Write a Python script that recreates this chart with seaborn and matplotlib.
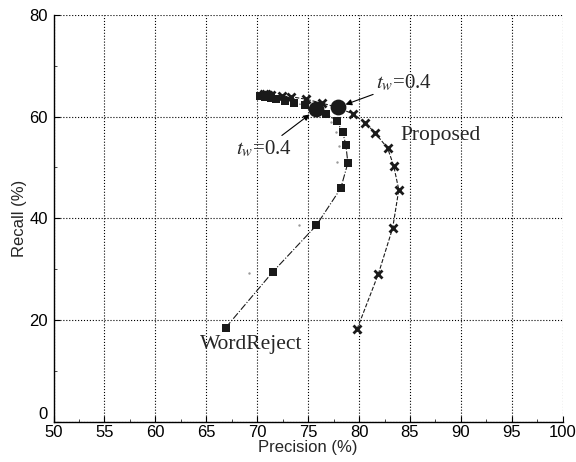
import matplotlib
matplotlib.use('Agg')
import matplotlib.pyplot as plt
import seaborn as sns

sns.set_style("ticks")
plt.rcParams['font.family'] = ['Liberation Sans', 'DejaVu Sans']
plt.rcParams['mathtext.fontset'] = 'stix'

# WordReject curve (squares), from low recall to the top cluster
wr_prec = [66.9, 71.5, 75.8, 78.2, 78.9, 78.7, 78.4, 77.8, 76.8, 75.8, 74.7, 73.6,
           72.7, 71.8, 71.4, 71.1, 70.8, 70.5, 70.3]
wr_rec = [18.5, 29.4, 38.6, 45.9, 50.9, 54.4, 56.9, 59.1, 60.5, 61.4, 62.2, 62.7,
          63.1, 63.4, 63.6, 63.8, 63.9, 64.0, 64.1]

# Proposed curve (crosses)
pr_prec = [79.8, 81.9, 83.3, 83.9, 83.4, 82.8, 81.6, 80.6, 79.4, 77.9, 76.4, 74.8,
           73.3, 72.4, 71.4, 71.1, 70.9, 70.7]
pr_rec = [18.2, 29.1, 38.1, 45.6, 50.3, 53.8, 56.7, 58.8, 60.5, 61.8, 62.6, 63.4,
          63.9, 64.0, 64.2, 64.3, 64.4, 64.4]

# faint dotted companion points
faint_prec = [69.2, 74.1, 77.8, 78.0, 77.7, 77.2]
faint_rec = [29.3, 38.6, 51.1, 54.3, 57.0, 59.0]

# operating points at t_w = 0.4
tw_prec = [75.8, 77.9]
tw_rec = [61.4, 61.8]

ink = '#1a1a1a'
fig = plt.figure(figsize=(5.76, 4.62), dpi=100)
ax = fig.add_axes([0.093, 0.087, 0.884, 0.881])

sns.scatterplot(x=faint_prec, y=faint_rec, ax=ax, color='#999999', s=3,
                linewidth=0, zorder=2)
sns.lineplot(x=wr_prec, y=wr_rec, ax=ax, sort=False, estimator=None, color=ink,
             lw=0.8, linestyle='-.', marker='s', markersize=6,
             markeredgewidth=0, markerfacecolor=ink, zorder=3)
sns.lineplot(x=pr_prec, y=pr_rec, ax=ax, sort=False, estimator=None, color=ink,
             lw=0.8, linestyle='--', marker='x', markersize=6,
             markeredgewidth=2, markeredgecolor=ink, zorder=3)
sns.scatterplot(x=tw_prec, y=tw_rec, ax=ax, color=ink, s=130, linewidth=0,
                zorder=4)

ax.set_xlim(50, 100)
ax.set_ylim(0, 80)
ax.set_xticks(range(50, 101, 5))
ax.set_yticks(range(0, 81, 20))
ax.set_xticks([x + 2.5 for x in range(50, 100, 5)], minor=True)
ax.set_yticks([10, 30, 50, 70], minor=True)
ax.tick_params(which='major', direction='in', length=4, width=0.8, labelsize=12,
               colors='black')
ax.tick_params(axis='x', which='major', pad=2)
ax.tick_params(axis='y', which='major', pad=4)
ax.tick_params(which='minor', direction='in', length=2, width=0.6)
ax.grid(True, which='major', linestyle=':', color='black', lw=0.8)
for s in ['top', 'right']:
    ax.spines[s].set_visible(False)
for s in ['left', 'bottom']:
    ax.spines[s].set_color('black')
    ax.spines[s].set_linewidth(1.0)
# the "0" sits a little above the corner, clear of the "50"
ax.get_yticklabels()[0].set_verticalalignment('bottom')

ax.set_xlabel('Precision (%)', fontsize=12, labelpad=0)
ax.set_ylabel('Recall (%)', fontsize=12, labelpad=2)

serif = ['Liberation Serif', 'DejaVu Serif']
arrow = dict(arrowstyle='-|>', color='black', lw=0.8, mutation_scale=9,
             shrinkA=0, shrinkB=6)
ax.annotate(r'$t_w$=0.4', xy=(tw_prec[1], tw_rec[1]), xytext=(81.7, 66.6),
            ha='left', va='center', fontsize=15, family=serif, arrowprops=arrow)
ax.annotate(r'$t_w$=0.4', xy=(tw_prec[0], tw_rec[0]), xytext=(67.9, 53.6),
            ha='left', va='center', fontsize=15, family=serif, arrowprops=arrow)
ax.text(84.1, 56.2, 'Proposed', ha='left', va='center', fontsize=15.5, family=serif)
ax.text(64.4, 15.1, 'WordReject', ha='left', va='center', fontsize=15.5, family=serif)

plt.savefig('out.png', dpi=100)
